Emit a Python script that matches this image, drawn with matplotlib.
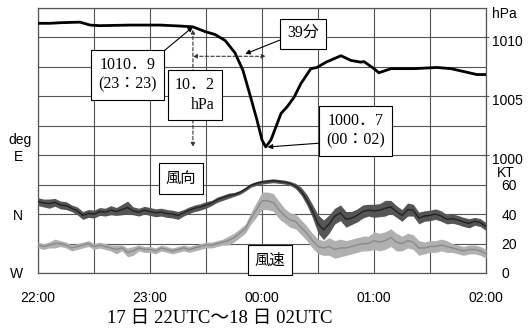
import matplotlib
matplotlib.use("Agg")
import numpy as np
import matplotlib.pyplot as plt
from matplotlib.transforms import ScaledTranslation

# ---- data (minutes after 22:00 UTC) ----
p_time = [0, 6.4, 11.8, 22.5, 27.9, 33.2, 49.3, 65.3, 76.0, 83, 89.5, 94.8, 100.2, 105.5,
          109.8, 113.6, 117.3, 120, 122, 124.8, 130.2, 133.4, 137.1, 140.9, 146.2, 149.4,
          154.3, 162.3, 167.6, 173.0, 174.6, 180, 182.6, 189.1, 201.4, 213.7, 221.2,
          228.2, 235.1, 240]
pressure = [1011.2, 1011.2, 1011.25, 1011.3, 1011.05, 1011.0, 1011.05, 1011.05, 1010.97,
            1010.9, 1010.5, 1010.25, 1009.75, 1008.7, 1007.2, 1005.1, 1003.0, 1001.3,
            1000.7, 1001.3, 1003.55, 1004.1, 1004.9, 1006.1, 1007.35, 1007.45, 1007.9,
            1008.45, 1008.05, 1007.9, 1007.95, 1007.35, 1007.0, 1007.35, 1007.35, 1007.45,
            1007.35, 1007.1, 1006.85, 1006.85]

w_time = list(range(0, 241, 3))
wind_dir = [19, 17, 16, 18, 14, 13, 9, 5, -2, 1, 0, 4, 3, 6, 4, 7, 10, 5, 3, 6, 4,
            2, 3, 1, 0, -2, 2, 6, 9, 11, 14, 17, 22, 25, 28, 30, 33, 38, 44, 47, 49,
            50, 51, 50, 49, 47, 43, 35, 22, 5, -15, -24, -15, -3, 2, -8, -6, -2, 4, 6, 5,
            6, 9, 11, 4, -2, 7, 6, -6, -3, -2, 0, -3, -8, -7, -9, -12, -14, -11, -13, -19]
dir_spread = [6, 6, 7, 6, 6, 6, 5, 6, 6, 6, 6, 6, 6, 7, 6, 8, 10, 6, 6, 6,
              6, 6, 6, 6, 6, 6, 5, 5, 5, 5, 5, 4, 4, 4,
              4, 3, 3, 3, 3, 3, 3, 3, 3, 3, 3, 3, 4,
              6, 8, 10, 14, 15, 14, 12,
              12, 12, 10, 10, 10, 9, 10, 10, 12, 10, 9, 9, 10,
              9, 9, 8, 8, 8, 8, 7, 7, 7, 7, 7, 6, 6, 6]
wind_spd = [19, 18, 19, 20, 20, 19, 17, 18, 19, 20, 18, 19, 18, 17, 16, 17, 14, 15, 17, 16, 16,
            15, 17, 16, 15, 16, 17, 16, 17, 18, 19, 19, 20, 21, 22, 24, 27, 30, 37, 43, 49,
            49, 48, 43, 39, 36, 35, 31, 27, 22, 18, 17, 18, 16, 17, 17, 18, 19, 20, 20, 22,
            21, 22, 24, 21, 20, 22, 21, 17, 17, 18, 18, 19, 18, 17, 16, 15, 16, 16, 15, 13]
spd_spread = [2, 2, 2, 3, 2, 2, 2, 2, 2, 2, 2, 2, 2, 2, 3, 2, 3, 3, 2, 2,
              2, 2, 2, 2, 2, 2, 2, 2, 2, 2, 2, 2, 2, 2,
              3, 3, 3, 3, 4, 5, 6, 6, 6, 6, 5, 5, 5,
              5, 5, 5, 5, 5, 6, 6,
              6, 5, 5, 5, 5, 5, 6, 6, 6, 6, 6, 5, 5,
              5, 5, 4, 4, 4, 4, 4, 3, 3, 3, 3, 3, 3, 3]

x_ticks = [0, 60, 120, 180, 240]
x_labels = ["22:00", "23:00", "00:00", "01:00", "02:00"]
dir_ticks = [-90, 0, 90]
dir_labels = ["W", "N", "E"]
p_ticks = [1000, 1005, 1010]
s_ticks = [0, 20, 40, 60]

SANS = ["Liberation Sans", "DejaVu Sans"]
SERIF = ["Liberation Serif", "Noto Sans CJK JP", "DejaVu Sans"]
CJK = ["Noto Sans CJK JP", "DejaVu Sans"]
GRID = "#555555"

fig = plt.figure(figsize=(5.28, 3.28), dpi=100)
ax = fig.add_axes([38/528, 55/328, 448/528, 265/328])
ax.set_xlim(0, 240)
ax.set_ylim(-90, 315)
ax.set_xticks(x_ticks)
ax.set_xticklabels(x_labels, family=SANS, fontsize=10)
ax.set_xticks(range(0, 241, 30), minor=True)
ax.set_yticks(range(-90, 316, 45), minor=True)
ax.set_yticks(dir_ticks)
ax.set_yticklabels(dir_labels, family=SANS, fontsize=10)
ax.grid(True, which="both", color=GRID, lw=0.8)
ax.tick_params(axis="x", which="both", length=0, pad=13)
ax.tick_params(axis="y", which="both", length=0, pad=11)
for s in ax.spines.values():
    s.set_color(GRID)
    s.set_linewidth(0.9)
ax.set_axisbelow(True)

wd = np.array(wind_dir, float)
wds = np.array(dir_spread, float)
ax.fill_between(w_time, wd - wds, wd + wds, color="#555555", lw=0, zorder=3)
ax.plot(w_time, wd, color="#222222", lw=1.0, zorder=3)
ax.text(-0.040, 0.502, "deg", transform=ax.transAxes, ha="center", va="center",
        family=SANS, fontsize=10)

ax2 = ax.twinx()
ax2.set_ylim(0, 180)
ax2.set_yticks(s_ticks)
ax2.set_yticklabels([str(v) for v in s_ticks], family=SANS, fontsize=10)
ax2.tick_params(axis="y", length=0, pad=11)
ws = np.array(wind_spd, float)
wss = np.array(spd_spread, float)
ax2.fill_between(w_time, ws - wss, ws + wss, color="#b0b0b0", lw=0, zorder=2)
ax2.plot(w_time, ws, color="#8a8a8a", lw=1.0, zorder=2)
ax2.text(1.045, 0.378, "KT", transform=ax.transAxes, ha="center", va="center",
         family=SANS, fontsize=10)
for s in ax2.spines.values():
    s.set_visible(False)

ax3 = ax.twinx()
ax3.set_ylim(990, 1012.5)
ax3.set_yticks(p_ticks)
ax3.set_yticklabels([str(v) for v in p_ticks], family=SANS, fontsize=10)
ax3.tick_params(axis="y", length=4, direction="inout", pad=2, color=GRID)
off = ScaledTranslation(0, -2.5/72, fig.dpi_scale_trans)
for lab in ax3.get_yticklabels():
    lab.set_transform(lab.get_transform() + off)
for s in ax3.spines.values():
    s.set_visible(False)
ax3.plot(p_time, pressure, color="black", lw=2.0, zorder=4)
ax3.text(1.042, 0.977, "hPa", transform=ax.transAxes, ha="center", va="center",
         family=SANS, fontsize=10)

box = dict(boxstyle="square,pad=0.45", fc="white", ec="black", lw=0.8)
arrow_solid = dict(arrowstyle="-|>", color="black", lw=0.8, mutation_scale=7,
                   shrinkA=0, shrinkB=0)

# 1010.9 (23:23)
ax3.annotate("1010．9\n(23：23)", xy=(83, 1010.9), xytext=(0.199, 0.747),
             textcoords="axes fraction", ha="center", va="center", family=SERIF,
             fontsize=11.5, linespacing=1.3, bbox=box, zorder=6,
             arrowprops=dict(arrow_solid, relpos=(1, 1)))
# 10.2 hPa
ax3.text(0.350, 0.672, "10．2\nhPa", transform=ax.transAxes, ha="center", va="center",
         multialignment="right", family=SERIF, fontsize=11.5, linespacing=1.3,
         bbox=box, zorder=6)
# dashed arrows
ax3.annotate("", xy=(83, 1000.7), xytext=(83, 1010.9),
             arrowprops=dict(arrowstyle="<|-|>", ls=(0, (3, 2)), lw=0.8, color="#333333",
                             mutation_scale=6, shrinkA=2, shrinkB=0), zorder=5)
ax3.annotate("", xy=(122, 1008.4), xytext=(83, 1008.4),
             arrowprops=dict(arrowstyle="<|-|>", ls=(0, (3, 2)), lw=0.8, color="#333333",
                             mutation_scale=6, shrinkA=0, shrinkB=0), zorder=5)
# 39分
ax3.annotate("39分", xy=(111, 1008.6), xytext=(0.592, 0.902),
             textcoords="axes fraction", ha="center", va="center", family=SERIF,
             fontsize=11.5, bbox=box, zorder=6,
             arrowprops=dict(arrow_solid, relpos=(0, 0.3)))
# 1000.7 (00:02)
ax3.annotate("1000．7\n(00：02)", xy=(123, 1000.7), xytext=(0.708, 0.536),
             textcoords="axes fraction", ha="center", va="center", family=SERIF,
             fontsize=11.5, linespacing=1.3, bbox=box, zorder=6,
             arrowprops=dict(arrow_solid, relpos=(0, 0.17)))
# labels
ax3.text(0.319, 0.358, "風向", transform=ax.transAxes, ha="center", va="center",
         family=CJK, fontsize=11, bbox=box, zorder=6)
ax3.text(0.518, 0.049, "風速", transform=ax.transAxes, ha="center", va="center",
         family=CJK, fontsize=11, bbox=box, zorder=6)

fig.text(220/528, 1 - 318/328, "17 日 22UTC～18 日 02UTC", ha="center", va="center",
         family=SERIF, fontsize=13.5)

fig.savefig("out.png", dpi=100)
